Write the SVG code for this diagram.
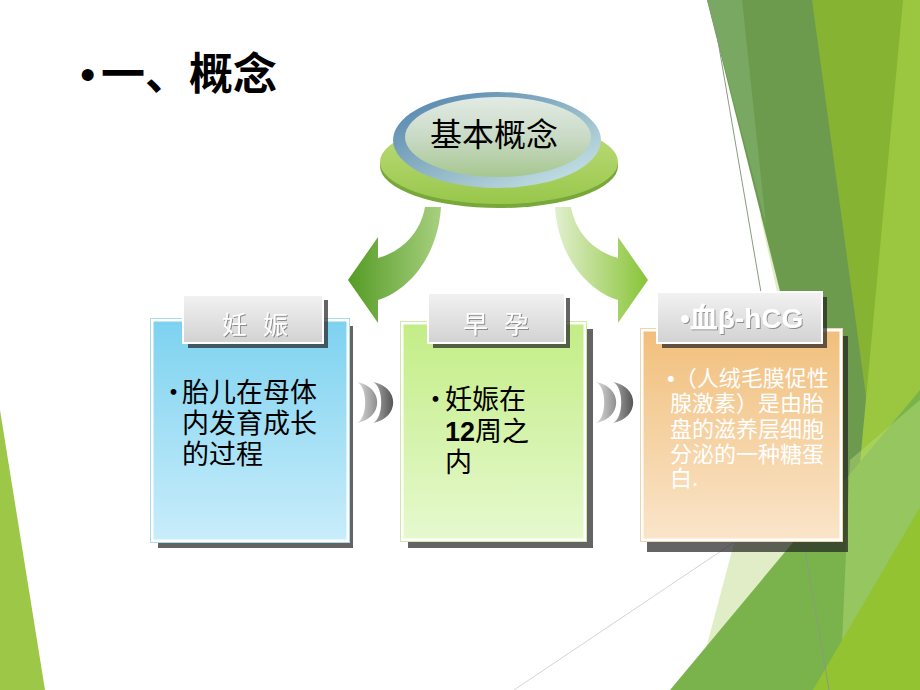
<svg xmlns="http://www.w3.org/2000/svg" width="920" height="690" viewBox="0 0 920 690">
  <defs>
    <style>
      .cjk { font-family: "Noto Sans CJK SC", "Liberation Sans", sans-serif; }
      .body { font-size: 27px; fill: #000; }
      .body3 { font-size: 22px; fill: #fff; }
      .tab { font-size: 25px; fill: #fff; letter-spacing: 16px; }
      .shadow { fill: #222; opacity: 0.7; }
      .tabrect { fill: url(#gTab); stroke: #fff; stroke-width: 2; }
      .bgline { fill: none; stroke-width: 1; }
      .lat { font-family: "Liberation Sans", sans-serif; }
    </style>
    <linearGradient id="gTab" x1="0" y1="0" x2="0" y2="1">
      <stop offset="0" stop-color="#f2f2f2"/>
      <stop offset="1" stop-color="#d2d2d2"/>
    </linearGradient>
    <linearGradient id="gBlue" x1="0" y1="0" x2="0" y2="1">
      <stop offset="0" stop-color="#7dd2f0"/>
      <stop offset="1" stop-color="#c9edfb"/>
    </linearGradient>
    <linearGradient id="gGreen" x1="0" y1="0" x2="0" y2="1">
      <stop offset="0" stop-color="#c3ed86"/>
      <stop offset="1" stop-color="#e6f9cf"/>
    </linearGradient>
    <linearGradient id="gOrange" x1="0" y1="0" x2="0" y2="1">
      <stop offset="0" stop-color="#f1bf7c"/>
      <stop offset="1" stop-color="#fae5ca"/>
    </linearGradient>
    <linearGradient id="gDisk" x1="0" y1="0" x2="0" y2="1">
      <stop offset="0" stop-color="#c2dd7e"/>
      <stop offset="1" stop-color="#98c74b"/>
    </linearGradient>
    <linearGradient id="gPlate" x1="0" y1="0" x2="1" y2="1">
      <stop offset="0" stop-color="#4d7fab"/>
      <stop offset="0.6" stop-color="#9cc0cc"/>
      <stop offset="1" stop-color="#d2eaee"/>
    </linearGradient>
    <linearGradient id="gFace" x1="0" y1="0" x2="0" y2="1">
      <stop offset="0" stop-color="#e2ebe4"/>
      <stop offset="0.5" stop-color="#c9dac6"/>
      <stop offset="1" stop-color="#a6c78f"/>
    </linearGradient>
    <linearGradient id="gArrowL" gradientUnits="userSpaceOnUse" x1="348" y1="0" x2="441" y2="0">
      <stop offset="0" stop-color="#549b25"/>
      <stop offset="1" stop-color="#a8d07f"/>
    </linearGradient>
    <linearGradient id="gArrowR" gradientUnits="userSpaceOnUse" x1="555" y1="0" x2="648" y2="0">
      <stop offset="0" stop-color="#e2efce"/>
      <stop offset="1" stop-color="#88c436"/>
    </linearGradient>
    <linearGradient id="gCresLight" x1="0" y1="0" x2="1" y2="0">
      <stop offset="0" stop-color="#dcdcdc"/>
      <stop offset="1" stop-color="#8e8e8e"/>
    </linearGradient>
    <linearGradient id="gCresDark" x1="0" y1="0" x2="1" y2="0">
      <stop offset="0" stop-color="#a8a8a8"/>
      <stop offset="1" stop-color="#555"/>
    </linearGradient>
    <filter id="ts" x="-10%" y="-10%" width="130%" height="130%">
      <feDropShadow dx="1" dy="1" stdDeviation="0.6" flood-color="#777" flood-opacity="0.8"/>
    </filter>
  </defs>

  <rect width="920" height="690" fill="#fff"/>

  <!-- background facets -->
  <g id="background">
    <polygon points="0,410 45,690 0,690" fill="#9dc847"/>
    <polygon points="760,215 790,350 733,547 695,690 920,690 920,215" fill="#e0edc7"/>
    <polygon points="707,0 920,0 920,690 880,690" fill="#6d9b4e"/>
    <polygon points="707,0 742,0 766,225" fill="#78a862"/>
    <polygon points="812,0 920,0 920,690 906,690" fill="#86b332"/>
    <polygon points="903,0 920,0 920,690 839,690" fill="#9ac73f"/>
    <polygon points="670,690 920,390 920,690" fill="#7ab34b"/>
    <polygon points="850,460 920,400 920,520 870,690 840,690" fill="#b9dd78" opacity="0.45"/>
    <polygon points="813,690 920,507 920,690" fill="#94c332"/>
    <line class="bgline" x1="711" y1="0" x2="829" y2="690" stroke="#8a9a80"/>
    <line class="bgline" x1="733" y1="543" x2="514" y2="690" stroke="#d4d4d4"/>
  </g>

  <!-- title -->
  <text class="cjk" x="80" y="90" font-size="44" font-weight="bold" fill="#000"><tspan class="lat" font-weight="normal">•</tspan><tspan x="101">一、概念</tspan></text>

  <!-- central concept -->
  <g id="concept">
    <ellipse cx="499" cy="166" rx="119" ry="42" fill="#79a83a"/>
    <ellipse cx="499" cy="162" rx="119" ry="42" fill="url(#gDisk)"/>
    <ellipse cx="497" cy="140" rx="104" ry="48" fill="url(#gPlate)"/>
    <ellipse cx="498" cy="137" rx="93" ry="40" fill="url(#gFace)"/>
    <text class="cjk" x="494" y="146" font-size="32" text-anchor="middle" fill="#000">基本概念</text>
  </g>

  <!-- connectors -->
  <g id="connectors">
    <path d="M425,207 C420,235 400,252 378,258 L378,237 L348,280 L378,323 L378,300 C410,290 438,255 441,207 Z" fill="url(#gArrowL)"/>
    <path d="M571,207 C576,235 596,252 618,258 L618,237 L648,280 L618,323 L618,300 C586,290 558,255 555,207 Z" fill="url(#gArrowR)"/>
    <path d="M357,382 C384,387 384,418 357,423 C368,418 368,387 357,382 Z" fill="url(#gCresLight)"/>
    <path d="M373,382 C400,387 400,418 373,423 C384,418 384,387 373,382 Z" fill="url(#gCresDark)"/>
    <path d="M596,382 C623,387 623,418 596,423 C607,418 607,387 596,382 Z" fill="url(#gCresLight)"/>
    <path d="M613,382 C640,387 640,418 613,423 C624,418 624,387 613,382 Z" fill="url(#gCresDark)"/>
  </g>

  <!-- node 1 -->
  <g id="node-pregnancy">
    <rect class="shadow" x="158" y="326" width="195" height="222"/>
    <rect x="152" y="320" width="196" height="221" fill="url(#gBlue)" stroke="#fff" stroke-width="3"/>
    <rect x="150.5" y="318.5" width="199" height="224" fill="none" stroke="#a9dcef" stroke-width="1"/>
    <rect class="shadow" x="188" y="300" width="140" height="48"/>
    <rect class="tabrect" x="183" y="295" width="140" height="48"/>
    <text class="cjk tab" x="222" y="334" filter="url(#ts)">妊娠</text>
    <text class="cjk body"><tspan x="160" y="402">•</tspan><tspan x="182" y="402">胎儿在母体</tspan><tspan x="182" y="433">内发育成长</tspan><tspan x="182" y="464">的过程</tspan></text>
  </g>

  <!-- node 2 -->
  <g id="node-early">
    <rect class="shadow" x="408" y="329" width="185" height="219"/>
    <rect x="402" y="323" width="183" height="217" fill="url(#gGreen)" stroke="#fff" stroke-width="3"/>
    <rect x="400.5" y="321.5" width="186" height="220" fill="none" stroke="#cfe9a8" stroke-width="1"/>
    <rect class="shadow" x="433" y="298" width="137" height="50"/>
    <rect class="tabrect" x="428" y="293" width="137" height="50"/>
    <text class="cjk tab" x="463" y="333" filter="url(#ts)">早孕</text>
    <text class="cjk body"><tspan x="422" y="409">•</tspan><tspan x="445" y="409">妊娠在</tspan><tspan x="445" y="441"><tspan class="lat" font-weight="bold">12</tspan>周之</tspan><tspan x="445" y="472">内</tspan></text>
  </g>

  <!-- node 3 -->
  <g id="node-hcg">
    <rect class="shadow" x="647" y="336" width="201" height="216"/>
    <rect x="642" y="330" width="199" height="210" fill="url(#gOrange)" stroke="#fff" stroke-width="3"/>
    <rect x="640.5" y="328.5" width="202" height="213" fill="none" stroke="#f3d3ac" stroke-width="1"/>
    <rect class="shadow" x="662" y="297" width="165" height="51"/>
    <rect class="tabrect" x="657" y="292" width="165" height="51"/>
    <text x="680" y="328" font-family="Liberation Sans, Noto Sans CJK SC, sans-serif" font-size="28" font-weight="bold" fill="#fff" filter="url(#ts)">•<tspan font-family="Noto Sans CJK SC, sans-serif">血</tspan>β-hCG</text>
    <text class="cjk body3"><tspan x="667" y="386"><tspan class="lat">•</tspan>（人绒毛膜促性</tspan><tspan x="670" y="411">腺激素）是由胎</tspan><tspan x="670" y="437">盘的滋养层细胞</tspan><tspan x="670" y="462">分泌的一种糖蛋</tspan><tspan x="670" y="486">白.</tspan></text>
  </g>
</svg>
